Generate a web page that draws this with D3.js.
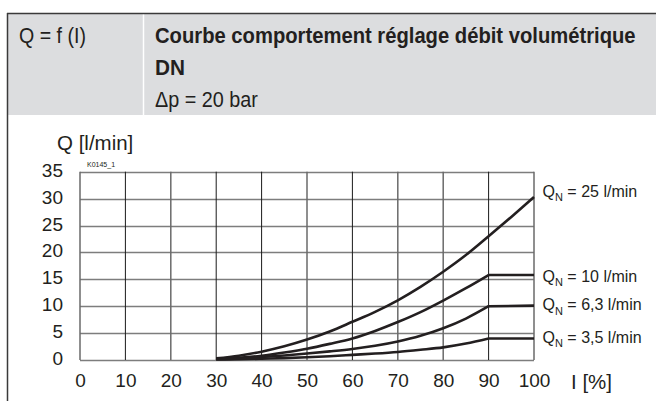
<!DOCTYPE html>
<html><head><meta charset="utf-8">
<script src="https://cdn.jsdelivr.net/npm/d3@7"></script>
<style>
html,body{margin:0;padding:0;background:#fff;}
svg{display:block;}
</style></head>
<body>
<script>
// ---- data ----
const xTicks = [0,10,20,30,40,50,60,70,80,90,100];
const yTicks = [0,5,10,15,20,25,30,35];
const currentPct = [30,35,40,45,50,55,60,65,70,75,80,85,90,95,100];
const qn25  = [0.3,0.8,1.55,2.55,3.8,5.3,7.1,8.95,11.1,13.6,16.4,19.5,23.0,26.6,30.3];
const qn10  = [0.2,0.4,0.8,1.4,2.1,3.0,4.0,5.4,7.05,8.9,11.05,13.35,15.8,15.8,15.8];
const qn63  = [0.15,0.3,0.55,0.85,1.2,1.6,2.05,2.65,3.45,4.5,5.9,7.7,10.0,10.05,10.1];
const qn35  = [0.1,0.15,0.25,0.35,0.5,0.7,0.95,1.2,1.5,1.9,2.35,3.05,4.0,4.0,4.0];
const seriesNames = ["25 l/min","10 l/min","6,3 l/min","3,5 l/min"];
const seriesValues = [qn25, qn10, qn63, qn35];
const seriesKnee = [100, 90, 90, 90];
const headerLeft = "Q = f (I)";
const headerTitle = "Courbe comportement réglage débit volumétrique";
const headerTitle2 = "DN";
const headerSub = "Δp = 20 bar";
const yTitle = "Q [l/min]";
const xTitle = "I [%]";
const codeLabel = "K0145_1";

const W = 656, H = 401;
const svg = d3.select("body").append("svg").attr("width", W).attr("height", H);

// ---- header ----
svg.append("rect").attr("x", 8).attr("y", 14).attr("width", W - 8).attr("height", 101).attr("fill", "#dcdddf");
svg.append("line").attr("x1", 143.5).attr("x2", 143.5).attr("y1", 14).attr("y2", 115).attr("stroke", "#fff").attr("stroke-width", 1.5);
svg.append("line").attr("x1", 7).attr("x2", W).attr("y1", 13.5).attr("y2", 13.5).attr("stroke", "#3a3a3a").attr("stroke-width", 1.5);
svg.append("line").attr("x1", 7.5).attr("x2", 7.5).attr("y1", 13).attr("y2", H).attr("stroke", "#3a3a3a").attr("stroke-width", 1.5);

const hfont = "'Liberation Sans',Arial,sans-serif";
function fitText(x, y, txt, w, size, weight) {
  const gg = svg.append("g");
  const t = gg.append("text").attr("x", 0).attr("y", 0).text(txt)
    .attr("font-family", hfont).attr("font-size", size).attr("font-weight", weight).attr("fill", "#231f20");
  const nat = t.node().getComputedTextLength();
  const sx = nat > 0 ? w / nat : 1;
  gg.attr("transform", `translate(${x},${y}) scale(${sx},1)`);
  return t;
}
fitText(19, 43, headerLeft, 67, 22.5, "normal");
fitText(155, 43, headerTitle, 481, 22.5, "bold");
fitText(155, 74.5, headerTitle2, 30, 22.5, "bold");
fitText(155, 106.5, headerSub, 103, 22.5, "normal");

// ---- chart ----
const x = d3.scaleLinear().domain([0, 100]).range([80, 534]);
const y = d3.scaleLinear().domain([0, 35]).range([360, 171.7]);
const font = "'Liberation Sans',Arial,sans-serif";

const g = svg.append("g");
g.selectAll("line.h").data(yTicks).join("line")
  .attr("x1", x(0)).attr("x2", x(100))
  .attr("y1", d => Math.round(y(d)) + 0.5).attr("y2", d => Math.round(y(d)) + 0.5)
  .attr("stroke", "#7d7d7d").attr("stroke-width", 1.6);
const darkV = new Set([10,30,40,60,90]);
g.selectAll("line.v").data(xTicks).join("line")
  .attr("x1", d => x(d)).attr("x2", d => x(d))
  .attr("y1", y(35)).attr("y2", y(0))
  .attr("stroke", d => darkV.has(d) ? "#1a1a1a" : "#6a6a6a")
  .attr("stroke-width", d => darkV.has(d) ? 1 : 1.5);

const xAxis = svg.append("g").attr("transform", `translate(0,${y(0)})`)
  .call(d3.axisBottom(x).tickValues(xTicks).tickSize(0).tickPadding(14));
xAxis.select(".domain").remove();
xAxis.selectAll("text").attr("font-family", font).attr("font-size", 19).attr("fill", "#231f20");

const yAxis = svg.append("g").attr("transform", `translate(${x(0)},0)`)
  .call(d3.axisLeft(y).tickValues(yTicks).tickSize(0).tickPadding(17));
yAxis.select(".domain").remove();
yAxis.selectAll("text").attr("font-family", font).attr("font-size", 19).attr("fill", "#231f20").attr("dy", "0.24em");

svg.append("text").attr("x", 57).attr("y", 150).text(yTitle)
  .attr("font-family", font).attr("font-size", 20.5).attr("fill", "#231f20");
svg.append("text").attr("x", 571).attr("y", 389).text(xTitle)
  .attr("font-family", font).attr("font-size", 20.5).attr("fill", "#231f20");
svg.append("text").attr("x", 87).attr("y", 166.5).text(codeLabel)
  .attr("font-family", font).attr("font-size", 7).attr("fill", "#231f20");

const lineCurve = d3.line().x(d => x(d[0])).y(d => y(d[1])).curve(d3.curveMonotoneX);
const lineFlat = d3.line().x(d => x(d[0])).y(d => y(d[1]));
seriesValues.forEach((vals, i) => {
  const pts = currentPct.map((c, j) => [c, vals[j]]);
  const knee = seriesKnee[i];
  const a = pts.filter(p => p[0] <= knee);
  const b = pts.filter(p => p[0] >= knee);
  svg.append("path").attr("d", lineCurve(a)).attr("fill", "none")
    .attr("stroke", "#231f20").attr("stroke-width", 2.6).attr("stroke-linejoin", "round");
  if (b.length > 1) {
    svg.append("path").attr("d", lineFlat([b[0], b[b.length - 1]])).attr("fill", "none")
      .attr("stroke", "#231f20").attr("stroke-width", 2.6);
  }
});

const labelBase = [196.8, 281.7, 310, 342.5];
seriesNames.forEach((n, i) => {
  const t = svg.append("text").attr("x", 542.5).attr("y", labelBase[i])
    .attr("font-family", font).attr("font-size", 16).attr("fill", "#231f20");
  t.append("tspan").text("Q");
  t.append("tspan").text("N").attr("font-size", 11).attr("dy", 4.5);
  t.append("tspan").text(" = " + n).attr("dy", -4.5);
});
</script>
</body></html>
